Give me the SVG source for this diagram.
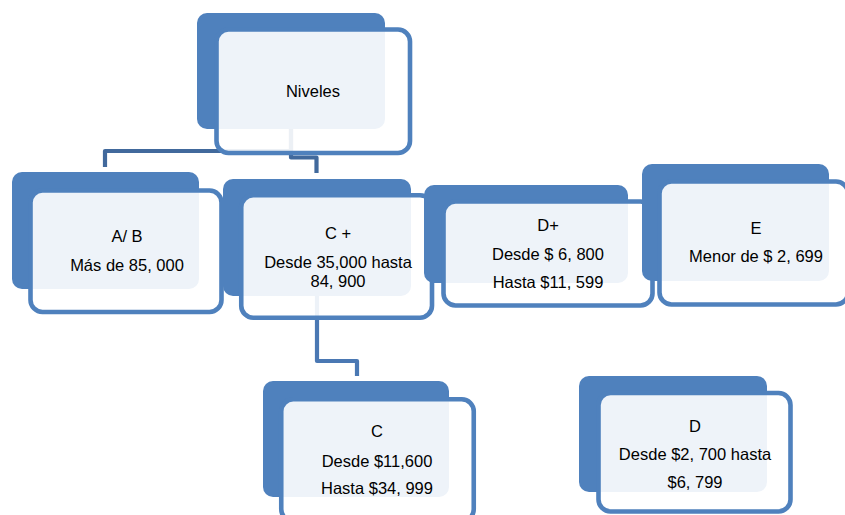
<svg xmlns="http://www.w3.org/2000/svg" width="845" height="515" viewBox="0 0 845 515">
  <style>
    .back { fill: #4F81BD; }
    .front { fill: #FFFFFF; fill-opacity: 0.9; stroke: #4F81BD; stroke-width: 4.6; }
    .link { fill: none; stroke: #41699C; stroke-width: 4.2; stroke-linejoin: round; }
    .link2 { fill: none; stroke: #4A78B3; stroke-width: 4.2; stroke-linejoin: round; }
    text { font-family: "Liberation Sans", Arial, sans-serif; font-size: 16.5px; fill: #000000; text-anchor: middle; }
  </style>
  <rect width="845" height="515" fill="#FFFFFF"/>

  <!-- connectors -->
  <g id="connectors">
    <path class="link" d="M291,125 V151 H105 V167"/>
    <path class="link" d="M291,125 V157.5 H316.5 V173"/>
    <path class="link2" d="M317,290 V361 H357 V376"/>
  </g>

  <!-- nodes -->
  <g id="node-niveles">
    <rect class="back" x="197" y="13" width="188" height="116" rx="10"/>
    <rect class="front" x="216.5" y="29.5" width="193.5" height="123.5" rx="12"/>
    <text x="313" y="97">Niveles</text>
  </g>

  <g id="node-ab">
    <rect class="back" x="12" y="172" width="187" height="117" rx="10"/>
    <rect class="front" x="30.5" y="190.5" width="191" height="121.5" rx="12"/>
    <text x="127" y="242">A/ B</text>
    <text x="127" y="271">Más de 85, 000</text>
  </g>

  <g id="node-cplus">
    <rect class="back" x="223" y="179" width="188" height="117" rx="10"/>
    <rect class="front" x="241.25" y="195.25" width="190.75" height="122.5" rx="12"/>
    <text x="338" y="239">C +</text>
    <text x="338" y="268">Desde 35,000 hasta</text>
    <text x="338" y="287">84, 900</text>
  </g>

  <g id="node-dplus">
    <rect class="back" x="424" y="185" width="204" height="98" rx="10"/>
    <rect class="front" x="443.5" y="201.5" width="209" height="104" rx="12"/>
    <text x="548" y="231">D+</text>
    <text x="548" y="260">Desde $ 6, 800</text>
    <text x="548" y="288">Hasta $11, 599</text>
  </g>

  <g id="node-e">
    <rect class="back" x="642" y="164" width="187" height="117" rx="10"/>
    <rect class="front" x="659.5" y="181.5" width="188.5" height="123" rx="12"/>
    <text x="756" y="234">E</text>
    <text x="756" y="262">Menor de $ 2, 699</text>
  </g>

  <g id="node-c">
    <rect class="back" x="263" y="381" width="186" height="116" rx="10"/>
    <rect class="front" x="281.25" y="399.25" width="192.5" height="122" rx="12"/>
    <text x="377" y="437">C</text>
    <text x="377" y="467">Desde $11,600</text>
    <text x="377" y="494">Hasta $34, 999</text>
  </g>

  <g id="node-d">
    <rect class="back" x="579" y="376" width="188" height="116" rx="10"/>
    <rect class="front" x="598.5" y="393" width="192" height="118.5" rx="12"/>
    <text x="695" y="432">D</text>
    <text x="695" y="460">Desde $2, 700 hasta</text>
    <text x="695" y="488">$6, 799</text>
  </g>
</svg>
